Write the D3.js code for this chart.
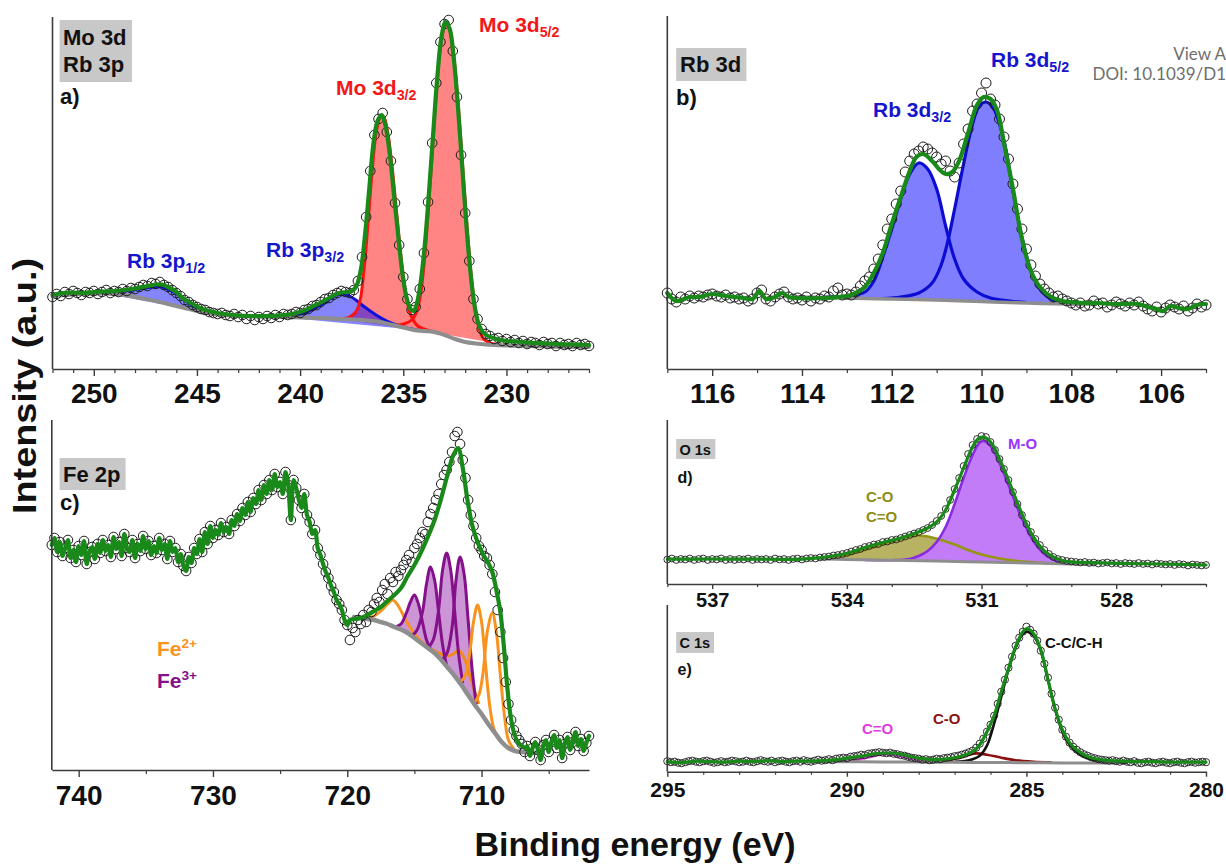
<!DOCTYPE html>
<html>
<head>
<meta charset="utf-8">
<script src="https://cdn.jsdelivr.net/npm/d3@7"></script>
<style>
  html, body { margin: 0; padding: 0; background: #fff; }
  svg { display: block; font-family: "Liberation Sans", Arial, Helvetica, sans-serif; }
</style>
</head>
<body>
<script>
// ---------------------------------------------------------------------------
// XPS spectra: measured counts on a fixed energy grid, fitted envelopes,
// fitted components and Shirley-type backgrounds (binding energy in eV,
// intensity in arbitrary units).
// ---------------------------------------------------------------------------

// (a) Mo 3d / Rb 3p  — acquisition grid 252.0 -> 226.0 eV, step 0.2 eV
const moStart = 252.0, moStep = -0.2;
const moCounts = [
  72,75,73,77,75,78,76,74,77,76, 78,75,77,79,76,78,77,80,78,81,
  80,82,84,83,86,85,87,84,82,79, 76,73,69,67,64,62,60,59,57,56,
  55,56,54,53,55,52,54,50,53,49, 52,50,53,51,54,52,55,54,55,57,
  56,59,60,63,64,67,70,71,74,76, 78,77,76,79,88,112,152,198,234,250,
  256,237,208,166,124,92,70,59,62,80, 116,167,226,286,327,345,349,318,272,214,
  156,108,70,50,40,35,33,30,31,28, 30,27,29,26,28,25,27,26,24,27,
  25,26,23,26,24,25,23,26,24,25, 23
];
const moEnvelope = [
  [252,74],[251.5,76],[251,76.5],[250.5,76],[250,77],[249.5,77.5],[249,78],[248.5,79],[248,80.5],
  [247.5,82.5],[247,84.5],[246.7,84.5],[246.4,82],[246,77],[245.7,71],[245.3,66],[244.85,61],
  [244.4,58],[244,56],[243.5,54.5],[243,53.5],[242.3,53],[241.5,53],[241,53.5],[240.55,54.5],
  [240.2,56],[239.8,58.5],[239.4,62.5],[239,66.5],[238.6,71],[238.3,74.5],[238,76.5],[237.7,77],
  [237.45,78.5],[237.25,84],[237.05,100],[236.85,135],[236.65,180],[236.45,225],[236.25,248],
  [236.05,254],[235.85,242],[235.65,214],[235.45,174],[235.25,134],[235.05,97],[234.85,72],
  [234.65,60],[234.5,58],[234.35,65],[234.15,88],[233.95,126],[233.75,178],[233.55,236],
  [233.35,292],[233.15,332],[232.95,347],[232.75,340],[232.55,310],[232.35,262],[232.15,204],
  [231.95,146],[231.75,98],[231.55,64],[231.35,45],[231.15,37],[230.9,33],[230.5,30],[230,28],
  [229.5,27.5],[229,26.5],[228.5,26],[228,25.5],[227.5,25],[227,24.5],[226.5,24.5],[226,24]
];
const moBackground = [
  [252,73],[251,74.5],[250,75.5],[249.5,75.5],[249,75],[248.5,74],[248,72],[247.5,70],[247,68],
  [246.5,65.5],[246,63],[245.5,60.5],[245,58],[244.5,56],[244,54.5],[243,53],[242,52.5],[241,52],
  [240,51.5],[239,51],[238,50],[237,49],[236.5,48],[236,46.5],[235.5,44],[235,41.5],[234.5,39],
  [234,38],[233.5,37],[233,34],[232.5,30],[232,27],[231.5,25.5],[231,24.5],[230,23.5],[229,23],
  [228,22.5],[227,22],[226,22]
];
const rb3p12 = [
  [249.5,75.5],[249,76.5],[248.5,78],[248,79.5],[247.5,81],[247,82],[246.7,82],[246.4,80],[246,75.5],
  [245.6,69],[245.2,63],[244.8,58.5],[244.4,56],[244,54.5]
];
const rb3p32 = [
  [241,52],[240.5,52.8],[240,54.5],[239.5,58.5],[239,64],[238.6,69.5],[238.3,73.5],[238.1,75],
  [237.9,75],[237.6,73],[237.3,69],[237,64],[236.6,58],[236.2,52.5],[235.8,48],[235.4,44.5],
  [235,42],[234.6,40],[234.3,39]
];
const mo3d32 = [
  [238,50],[237.6,52],[237.3,57],[237.1,68],[236.9,100],[236.7,148],[236.5,200],[236.3,238],
  [236.1,252],[235.95,252],[235.75,236],[235.55,204],[235.35,162],[235.15,120],[234.95,85],
  [234.75,62],[234.55,50],[234.3,43],[234,40],[233.6,37.5],[233.2,35.5]
];
const mo3d52 = [
  [235.6,43.5],[235.2,44],[234.9,45.5],[234.6,49],[234.4,55],[234.2,70],[234,103],[233.8,155],
  [233.6,215],[233.4,276],[233.2,322],[233,342],[232.85,344],[232.7,335],[232.5,302],[232.3,254],
  [232.1,196],[231.9,140],[231.7,92],[231.5,58],[231.3,39],[231.1,30],[230.8,26],[230.3,24],[229.8,23.5]
];
const moTicks = [250, 245, 240, 235, 230];

// (b) Rb 3d — grid 117.0 -> 105.0 eV, step 0.1 eV
const rbStart = 117.0, rbStep = -0.1;
const rbCounts = [
  76,70,67,72,70,73,71,73,72,74, 75,73,72,74,71,72,70,71,68,70,
  76,79,70,68,72,75,77,72,70,71, 69,72,68,71,70,73,72,78,81,74,
  75,74,77,83,88,92,100,110,124,140, 150,165,178,197,208,215,218,222,220,216,
  212,205,208,198,192,206,225,240,258,265, 276,286,270,264,250,232,210,185,160,140,
  120,104,93,85,80,76,72,73,70,68, 66,64,66,63,64,68,65,66,62,64,
  67,65,63,66,64,67,63,60,58,62, 57,61,64,62,60,63,58,61,65,62, 64
];
const rbEnvelope = [
  [117,76],[116.8,68],[116.5,72],[116.3,72],[116,75],[115.7,73],[115.5,72],[115.3,71],[115.1,70],
  [114.95,78],[114.8,70],[114.6,72],[114.45,76],[114.3,72],[114.1,71],[113.5,71],[113,73],[112.8,76],
  [112.6,82],[112.4,96],[112.2,116],[112,145],[111.8,172],[111.6,198],[111.45,212],[111.3,215],
  [111.1,208],[110.95,200],[110.8,195],[110.65,197],[110.5,208],[110.3,236],[110.1,264],[109.95,272],
  [109.8,270],[109.65,258],[109.5,226],[109.3,180],[109.1,130],[108.9,98],[108.7,82],[108.45,72],
  [108.2,68],[108,67],[107.7,66],[107.4,66],[107.1,65],[106.8,65],[106.5,65],[106.3,62],[106.1,60],
  [105.95,58],[105.8,63],[105.6,61],[105.4,60],[105.2,64],[105,65]
];
const rbBackground = [
  [114.2,72],[113.5,71.5],[113,71],[112,70],[111,69],[110,67.5],[109,66],[108,65],[107.6,65]
];
const rb3d32 = [
  [113.5,72],[113,73],[112.6,77],[112.4,88],[112.2,112],[112,140],[111.8,170],[111.6,195],[111.4,206],
  [111.2,200],[111,180],[110.8,143],[110.6,110],[110.4,90],[110.1,77],[109.8,71],[109.3,67.5],[109,66.5]
];
const rb3d52 = [
  [112.2,70.5],[111.8,72],[111.4,76],[111.1,86],[110.9,104],[110.75,128],[110.6,160],[110.4,205],
  [110.2,245],[110.05,263],[109.9,267],[109.75,262],[109.6,245],[109.45,218],[109.3,178],[109.1,132],
  [108.9,98],[108.7,80],[108.45,70],[108.1,66],[107.8,65]
];
const rbTicks = [116, 114, 112, 110, 108, 106];

// (c) Fe 2p — grid 742.0 -> 702.0 eV, step 0.2 eV
const feStart = 742.0, feStep = -0.2;
const feCounts = [
  225,232,218,228,214,222,230,212,220,208, 224,215,229,206,218,223,211,226,217,230,
  219,225,213,233,221,228,214,236,222,218, 230,212,226,219,234,221,229,215,224,217,
  232,220,226,211,229,218,222,208,216,204, 199,213,207,222,216,231,218,238,226,244,
  232,240,235,247,238,243,236,250,244,256, 249,262,255,268,258,272,266,280,270,285,
  276,290,280,296,283,288,276,298,285,250, 290,282,270,262,276,255,248,236,240,222,
  215,206,198,192,184,178,170,166,160,150, 145,130,142,138,150,146,155,148,160,158,
  166,172,168,180,186,176,192,188,198,194, 200,205,210,215,208,222,226,232,238,236,
  248,256,262,270,276,286,295,300,308,318, 334,338,326,310,292,270,255,244,232,224,
  220,214,212,205,196,178,160,138,112,88, 66,50,40,34,30,26,18,24,14,22,
  28,20,10,25,30,18,28,35,22,30, 12,26,33,20,28,38,24,31,19,27, 34
];
// smooth fitted envelope between the two noisy flanks (719.8 -> 706.7 eV)
const feEnvelopeMid = [
  [719.8,150],[719.4,151],[719,152],[718.5,155],[718,159],[717.5,163],[717,169],[716.5,175],[716,182],
  [715.5,194],[715,205],[714.5,218],[714,233],[713.5,250],[713,272],[712.5,297],[712.1,315],
  [711.75,322],[711.4,302],[711.05,270],[710.7,245],[710.3,228],[709.9,216],[709.5,207],[709.2,198],
  [708.9,180],[708.6,158],[708.35,125],[708.1,85],[707.85,55],[707.6,38],[707.3,28],[707,24],[706.7,22]
];
const feBackground = [
  [719.5,153],[719,152],[718.5,151],[718,150],[717.5,148],[717,146],[716.5,143],[716,140.5],[715.5,137],
  [715,132],[714.5,127],[714,122],[713.5,117],[713,110],[712.5,102],[712,94],[711.5,85],[711,75],
  [710.5,65],[710,56],[709.5,46],[709,37],[708.5,28],[708,22],[707.5,19],[707,18],[706.5,17.5],[705.5,17]
];
const fe3Peak1 = [[716.4,143],[716,146],[715.6,157],[715.3,168],[715,175],[714.7,166],[714.4,148],[714.1,130],[713.8,121]];
const fe3Peak2 = [[715.2,134],[714.8,140],[714.4,158],[714.1,186],[713.8,203],[713.5,190],[713.2,158],[712.9,125],[712.6,104]];
const fe3Peak3 = [[714,122],[713.6,130],[713.2,160],[712.9,200],[712.6,217],[712.3,200],[712,158],[711.7,115],[711.4,87]];
const fe3Peak4 = [[713,110],[712.6,116],[712.2,142],[711.9,190],[711.6,213],[711.3,196],[711,150],[710.7,100],[710.4,66]];
const fe2Satellite = [[718.6,151],[718,154],[717.5,159],[717,166],[716.6,170],[716.2,164],[715.8,154],[715.3,142],[714.8,133],[714.2,125],[713.6,119]];
const fe2Broad = [[714.5,127],[714,123],[713.5,119],[713,116],[712.5,114],[712,117],[711.7,120],[711.3,112],[711,100],[710.6,82],[710.2,66]];
const fe2Peak1 = [[711.6,87],[711.2,95],[710.9,115],[710.6,148],[710.3,165],[710,148],[709.7,105],[709.4,65],[709.1,42],[708.8,33]];
const fe2Peak2 = [[710.6,66],[710.2,75],[709.9,96],[709.55,140],[709.2,157],[708.9,138],[708.6,95],[708.3,55],[708,30],[707.6,21]];
const feTicks = [740, 730, 720, 710];

// (d) O 1s — grid 538.0 -> 526.0 eV, step 0.1 eV
const oStart = 538.0, oStep = -0.1;
const oCounts = [
  24.5,25.5,24,25,24.5,25.5,24,25,25.5,24, 25,24.5,25.5,24,25,24,25,24.5,25.5,24,
  25,24.5,25,24,25.5,24.5,25,24,25,25.5, 24.5,25.5,26,25.5,26.5,27,27.5,28.5,29,30,
  31,32.5,34,35,37,38,39.5,40,42,42.5, 44,44.5,46,47.5,49,50.5,52,54,56,59,
  63,68,75,84,95,106,118,130,139,145, 148,147,142,134,125,115,104,92,80,69,
  60,52,45,39,34,30,27,25,24,23, 22.5,22,21.5,22,21,21.5,20.5,21,21.5,20.5,
  21,20,21,20.5,20,21,20,20.5,19.5,20.5, 20,19.5,20,19,20,19.5,18.5,19.5,19,18.5, 19
];
const oEnvelope = [
  [538,24.8],[537,25],[536,24.8],[535,24.9],[534.7,25.8],[534.4,27.5],[534,30.8],[533.6,36.5],
  [533.2,41.5],[532.8,46],[532.5,50.5],[532.2,56],[532,62],[531.8,74],[531.6,94],[531.4,116],
  [531.2,137],[531.05,146],[530.9,146],[530.75,139],[530.6,125],[530.4,104],[530.2,81],[530,60],
  [529.8,44],[529.6,33],[529.4,27],[529.2,23.5],[529,22.2],[528.5,21.3],[528,20.7],[527,20],[526,19]
];
const oBackground = [[534.6,25.2],[534,24.5],[533,23.8],[532,23],[531,22],[530,21],[529,20],[528.5,19.7]];
const oCarbonOxygen = [
  [534.6,25.5],[534.2,27.5],[533.8,31.5],[533.4,37],[533,42.5],[532.7,46.5],[532.45,48.5],[532.2,47.5],
  [531.9,44],[531.6,39.5],[531.3,34],[531,29.5],[530.6,25.5],[530.2,23],[529.7,21.3],[529.2,20.3]
];
const oMetalOxygen = [
  [533.6,24],[533,23.8],[532.6,25],[532.4,28],[532.2,33],[532,42],[531.8,57],[531.6,80],[531.4,106],
  [531.2,129],[531.05,141],[530.95,143],[530.8,138],[530.6,121],[530.4,99],[530.2,76],[530,56],
  [529.8,40],[529.6,30],[529.4,24.5],[529.1,21.5],[528.8,20.3]
];
const oTicks = [537, 534, 531, 528];

// (e) C 1s — grid 295.0 -> 280.0 eV, step 0.1 eV
const cStart = 295.0, cStep = -0.1;
const cCounts = [
  10.5,9.5,10,9,8.5,9.5,10.5,11,10,9.5, 10.5,11,10,9,9.5,10.5,9.5,10,11,10.5,
  9.5,10,11,10,9.5,10.5,11.5,10.5,10,11, 9.5,10.5,11,10,9.5,10.5,11,10,11.5,10.5,
  10,11,12,11,11.5,12.5,11.5,13,13.5,14, 13.5,15,15.5,16,17,16.5,18,18.5,19,19.5,
  19,18.5,19,18,17.5,16.5,16,15,14,13.5, 13,12,12.5,11.5,12,13,12.5,13.5,14,14.5,
  15.5,16,17,18,19.5,21,24,28,33,40, 47,56,68,80,92,104,115,126,134,140,
  145,142,138,131,121,108,94,78,64,52, 42,35,29,25,22,19.5,17.5,16,14.5,13.5,
  12.5,12,11.5,11,11.5,10.5,10,11,10,9.5, 10.5,9,8.5,9.5,10,9,8.5,9.5,10,9,
  8.5,9.5,10,9,8.5,9.5,10,9,9.5,10, 9.5
];
const cEnvelope = [
  [295,10],[294.6,9],[294.2,10.5],[293.8,10],[293.4,9.5],[293,10.5],[292.6,10],[292.2,11],[291.8,10],
  [291.4,10.5],[291,10.5],[290.6,11],[290.3,12],[290,13.5],[289.6,15.5],[289.2,18],[288.9,18.7],
  [288.5,17.5],[288.2,15],[287.9,13],[287.6,12],[287.3,12.5],[287,14],[286.7,17],[286.5,20],
  [286.3,27],[286.1,40],[285.9,56],[285.7,80],[285.5,103],[285.3,125],[285.1,140],[284.98,143],
  [284.8,138],[284.6,122],[284.4,92],[284.2,63],[284,42],[283.8,29],[283.5,19],[283.2,14],
  [282.8,11.5],[282.4,10.5],[282,10],[281.5,10],[281,9.5],[280.5,9.5],[280,9.5]
];
const cBackground = [[291,10],[290,9.9],[289,9.8],[288,9.6],[287,9.4],[286,9.2],[285,9],[284,8.8],[283,8.6],[282.5,8.6]];
const cCarbonyl = [[290.2,10.2],[289.8,11.5],[289.4,14.5],[289.1,17],[288.9,17.7],[288.6,16.5],[288.3,13.8],[287.9,11.2],[287.5,10]];
const cEther = [[287.8,9.8],[287.3,11],[286.9,14],[286.6,17],[286.4,18.3],[286.1,17],[285.7,14],[285.3,11.5],[284.8,10],[284.3,9.3]];
const cAliphatic = [
  [287,9.8],[286.6,11.5],[286.3,16],[286.1,26],[285.9,48],[285.7,75],[285.5,102],[285.3,124],[285.1,138],
  [284.98,140],[284.8,136],[284.6,121],[284.4,92],[284.2,62],[284,40],[283.8,27],[283.5,17],[283.2,12.5],
  [282.8,10.3],[282.2,9.3]
];
const cTicks = [295, 290, 285, 280];

// ---------------------------------------------------------------------------
const W = 1226, H = 865;
const FONT = '"Liberation Sans", Arial, Helvetica, sans-serif';
const svg = d3.select('body').append('svg').attr('width', W).attr('height', H);

// pair each count with its energy on the acquisition grid
const onGrid = (start, step, counts) => counts.map((v, i) => [+(start + i * step).toFixed(2), v]);

function drawPanel(p) {
  const g = svg.append('g');
  const x = d3.scaleLinear().domain(p.xDomain).range([p.left, p.right]);
  const y = d3.scaleLinear().domain([0, p.yMax]).range([p.bottom, p.top]);
  const line = d3.line().x(d => x(d[0])).y(d => y(d[1])).curve(d3.curveCatmullRom.alpha(0.5));

  // filled fit components (each group composited with a single opacity)
  (p.fills || []).forEach(f => {
    const fg = g.append('g').attr('opacity', f.opacity);
    f.series.forEach(s => fg.append('path').attr('d', line(s) + 'Z').attr('fill', f.color));
  });
  // component outlines
  (p.components || []).forEach(c => {
    g.append('path').attr('d', line(c.data)).attr('fill', 'none')
      .attr('stroke', c.color).attr('stroke-width', c.width).attr('stroke-linejoin', 'round');
  });
  // background
  g.append('path').attr('d', line(p.background)).attr('fill', 'none')
    .attr('stroke', '#8e8e8e').attr('stroke-width', p.bgWidth).attr('stroke-linecap', 'round');
  // measured points
  g.append('g').selectAll('circle').data(p.points).join('circle')
    .attr('cx', d => x(d[0])).attr('cy', d => y(d[1])).attr('r', p.r)
    .attr('fill', 'none').attr('stroke', '#1c1c1c').attr('stroke-width', p.circleStroke);
  // fitted envelope
  g.append('path').attr('d', line(p.envelope)).attr('fill', 'none')
    .attr('stroke', '#198a19').attr('stroke-width', p.fitWidth)
    .attr('stroke-linejoin', 'round').attr('stroke-linecap', 'round');

  // x axis: labelled major ticks + unlabelled minor ticks
  const ax = g.append('g').attr('transform', `translate(0,${p.bottom})`)
    .call(d3.axisBottom(x).tickValues(p.major).tickSize(p.majorLen).tickSizeOuter(0)
      .tickPadding(p.pad).tickFormat(d3.format('d')));
  ax.select('.domain').attr('stroke', '#3c3c3c').attr('stroke-width', 1.6);
  ax.selectAll('.tick line').attr('stroke', '#3c3c3c').attr('stroke-width', 1.4);
  ax.selectAll('.tick text').attr('font-size', p.tickFont).attr('font-weight', 'bold')
    .attr('font-family', FONT).attr('fill', '#111');
  const mx = g.append('g').attr('transform', `translate(0,${p.bottom})`)
    .call(d3.axisBottom(x).tickValues(p.minor).tickSize(p.minorLen).tickSizeOuter(0).tickFormat(''));
  mx.select('.domain').remove();
  mx.selectAll('.tick line').attr('stroke', '#3c3c3c').attr('stroke-width', 1.2);

  // y axis line (no ticks)
  g.append('line').attr('x1', p.left).attr('x2', p.left).attr('y1', p.top).attr('y2', p.bottom)
    .attr('stroke', '#3c3c3c').attr('stroke-width', 1.6);
}

function minorTicks(lo, hi, step, major) {
  return d3.range(lo, hi + 1e-9, step).map(v => +v.toFixed(3)).filter(v => !major.includes(v));
}

// (a)
drawPanel({
  xDomain: [252, 226], yMax: 352, left: 52.5, right: 589, top: 17, bottom: 369,
  points: onGrid(moStart, moStep, moCounts), envelope: moEnvelope, background: moBackground,
  fills: [
    { color: '#ff0000', opacity: 0.48, series: [mo3d32, mo3d52] },
    { color: '#0000ff', opacity: 0.48, series: [rb3p12, rb3p32] }
  ],
  components: [
    { data: rb3p12, color: '#1010d8', width: 3 }, { data: rb3p32, color: '#1010d8', width: 3 },
    { data: mo3d32, color: '#ff1010', width: 3 }, { data: mo3d52, color: '#ff1010', width: 3 }
  ],
  major: moTicks, minor: minorTicks(226, 252, 1, moTicks),
  r: 4.8, circleStroke: 1, fitWidth: 4.2, bgWidth: 4,
  majorLen: 7, minorLen: 4, pad: 7, tickFont: 28
});

// (b)
drawPanel({
  xDomain: [117, 105], yMax: 353, left: 667.3, right: 1206, top: 16, bottom: 369,
  points: onGrid(rbStart, rbStep, rbCounts), envelope: rbEnvelope, background: rbBackground,
  fills: [{ color: '#0000ff', opacity: 0.5, series: [rb3d32, rb3d52] }],
  components: [
    { data: rb3d32, color: '#0c0cd2', width: 3.2 }, { data: rb3d52, color: '#0c0cd2', width: 3.2 }
  ],
  major: rbTicks, minor: minorTicks(105, 117, 1, rbTicks),
  r: 5, circleStroke: 1, fitWidth: 4.2, bgWidth: 3.5,
  majorLen: 7, minorLen: 4, pad: 7, tickFont: 28
});

// (c) envelope follows the measured trace on both noisy flanks
const fePoints = onGrid(feStart, feStep, feCounts);
const feEnvelope = fePoints.filter(d => d[0] >= 720)
  .concat(feEnvelopeMid, fePoints.filter(d => d[0] <= 706.6));
drawPanel({
  xDomain: [742, 702], yMax: 350, left: 51.8, right: 589, top: 420, bottom: 770,
  points: fePoints, envelope: feEnvelope, background: feBackground,
  fills: [{ color: '#9a30ae', opacity: 0.5, series: [fe3Peak1, fe3Peak2, fe3Peak3, fe3Peak4] }],
  components: [
    { data: fe2Broad, color: '#f28a1a', width: 3 },
    { data: fe2Satellite, color: '#f7931e', width: 3 },
    { data: fe3Peak1, color: '#84108a', width: 3 }, { data: fe3Peak2, color: '#84108a', width: 3 },
    { data: fe3Peak3, color: '#84108a', width: 3 }, { data: fe3Peak4, color: '#84108a', width: 3 },
    { data: fe2Peak1, color: '#f7931e', width: 3 }, { data: fe2Peak2, color: '#f7931e', width: 3 }
  ],
  major: feTicks, minor: [735, 725, 715, 705],
  r: 4.8, circleStroke: 1, fitWidth: 4.2, bgWidth: 4.5,
  majorLen: 7, minorLen: 4, pad: 8, tickFont: 28
});

// (d)
drawPanel({
  xDomain: [538, 526], yMax: 164, left: 667.3, right: 1206, top: 420, bottom: 584,
  points: onGrid(oStart, oStep, oCounts), envelope: oEnvelope, background: oBackground,
  fills: [
    { color: '#b8b263', opacity: 1, series: [oCarbonOxygen] },
    { color: '#c27cf7', opacity: 1, series: [oMetalOxygen] }
  ],
  components: [
    { data: oCarbonOxygen, color: '#959516', width: 2.6 },
    { data: oMetalOxygen, color: '#8a2be2', width: 2.6 }
  ],
  major: oTicks, minor: minorTicks(526, 538, 1, oTicks),
  r: 3.4, circleStroke: 0.9, fitWidth: 3.2, bgWidth: 3,
  majorLen: 5, minorLen: 3, pad: 4, tickFont: 20
});

// (e)
drawPanel({
  xDomain: [295, 280], yMax: 166.7, left: 667.3, right: 1206, top: 605, bottom: 771.7,
  points: onGrid(cStart, cStep, cCounts), envelope: cEnvelope, background: cBackground,
  fills: [],
  components: [
    { data: cCarbonyl, color: '#e03ce0', width: 2.6 },
    { data: cEther, color: '#8b1010', width: 2.6 },
    { data: cAliphatic, color: '#111111', width: 2.6 }
  ],
  major: cTicks, minor: minorTicks(280, 295, 1, cTicks),
  r: 3.6, circleStroke: 0.9, fitWidth: 3.2, bgWidth: 3,
  majorLen: 5, minorLen: 3, pad: 5, tickFont: 21
});

// ---------------------------------------------------------------------------
// annotations
function label(x, y, parts, size, color, weight = 'bold') {
  const t = svg.append('text').attr('x', x).attr('y', y).attr('font-size', size)
    .attr('font-weight', weight).attr('fill', color).attr('font-family', FONT);
  let shift = 0;
  parts.forEach(([txt, kind]) => {
    const s = t.append('tspan').text(txt);
    if (kind === 'sub') {
      s.attr('font-size', size * 0.68).attr('dy', size * 0.25 - shift); shift = size * 0.25;
    } else if (kind === 'sup') {
      s.attr('font-size', size * 0.65).attr('dy', -size * 0.4 - shift); shift = -size * 0.4;
    } else if (shift !== 0) {
      s.attr('dy', -shift); shift = 0;
    }
  });
  return t;
}
function tag(x, y, w, h) {
  svg.append('rect').attr('x', x).attr('y', y).attr('width', w).attr('height', h).attr('fill', '#c8c8c8');
}

// (a)
tag(59.6, 20, 72.4, 62);
label(63, 45, [['Mo 3d']], 22, '#111');
label(63, 72, [['Rb 3p']], 22, '#111');
label(60, 104, [['a)']], 22, '#111');
label(127, 268, [['Rb 3p'], ['1/2', 'sub']], 21, '#1515cc');
label(266, 257, [['Rb 3p'], ['3/2', 'sub']], 21, '#1515cc');
label(336, 95, [['Mo 3d'], ['3/2', 'sub']], 21, '#f01818');
label(479, 32, [['Mo 3d'], ['5/2', 'sub']], 21, '#f01818');

// (b)
tag(676.2, 48, 70.2, 33);
label(680, 72, [['Rb 3d']], 22, '#111');
label(676, 105, [['b)']], 22, '#111');
label(873, 117, [['Rb 3d'], ['3/2', 'sub']], 21, '#1515cc');
label(991, 67, [['Rb 3d'], ['5/2', 'sub']], 21, '#1515cc');

// (c)
tag(59.6, 458, 66, 32);
label(63, 482, [['Fe 2p']], 22, '#111');
label(60, 510, [['c)']], 22, '#111');
label(157, 656, [['Fe'], ['2+', 'sup']], 21, '#f7931e');
label(157, 688, [['Fe'], ['3+', 'sup']], 21, '#84108a');

// (d)
tag(676.2, 439, 39.2, 20);
label(679.5, 455, [['O 1s']], 14.5, '#111');
label(677.5, 483, [['d)']], 16, '#111');
label(866, 502, [['C-O']], 15, '#8e8e14');
label(866, 522, [['C=O']], 15, '#8e8e14');
label(1008, 449, [['M-O']], 15, '#9933ff');

// (e)
tag(676.2, 632, 37.8, 21);
label(679.5, 648, [['C 1s']], 14.5, '#111');
label(677.5, 675, [['e)']], 16, '#111');
label(862, 734, [['C=O']], 15, '#e03ce0');
label(933, 724, [['C-O']], 15, '#8b1010');
label(1045, 648, [['C-C/C-H']], 15, '#111');

// shared axis titles
svg.append('text').attr('transform', 'translate(36,386) rotate(-90)').attr('text-anchor', 'middle')
  .attr('font-size', 34).attr('font-weight', 'bold').attr('font-family', FONT).attr('fill', '#111')
  .attr('textLength', 256).attr('lengthAdjust', 'spacingAndGlyphs')
  .text('Intensity (a.u.)');
svg.append('text').attr('x', 635).attr('y', 856).attr('text-anchor', 'middle')
  .attr('font-size', 34).attr('font-weight', 'bold').attr('font-family', FONT).attr('fill', '#111')
  .text('Binding energy (eV)');

// page header text
svg.append('text').attr('x', 1226).attr('y', 60).attr('text-anchor', 'end')
  .attr('font-size', 17).attr('font-family', 'Lato, "Open Sans", sans-serif').attr('fill', '#6e6e6e')
  .text('View A');
svg.append('text').attr('x', 1226).attr('y', 80).attr('text-anchor', 'end')
  .attr('font-size', 17).attr('font-family', 'Lato, "Open Sans", sans-serif').attr('fill', '#6e6e6e')
  .text('DOI: 10.1039/D1');
</script>
</body>
</html>
